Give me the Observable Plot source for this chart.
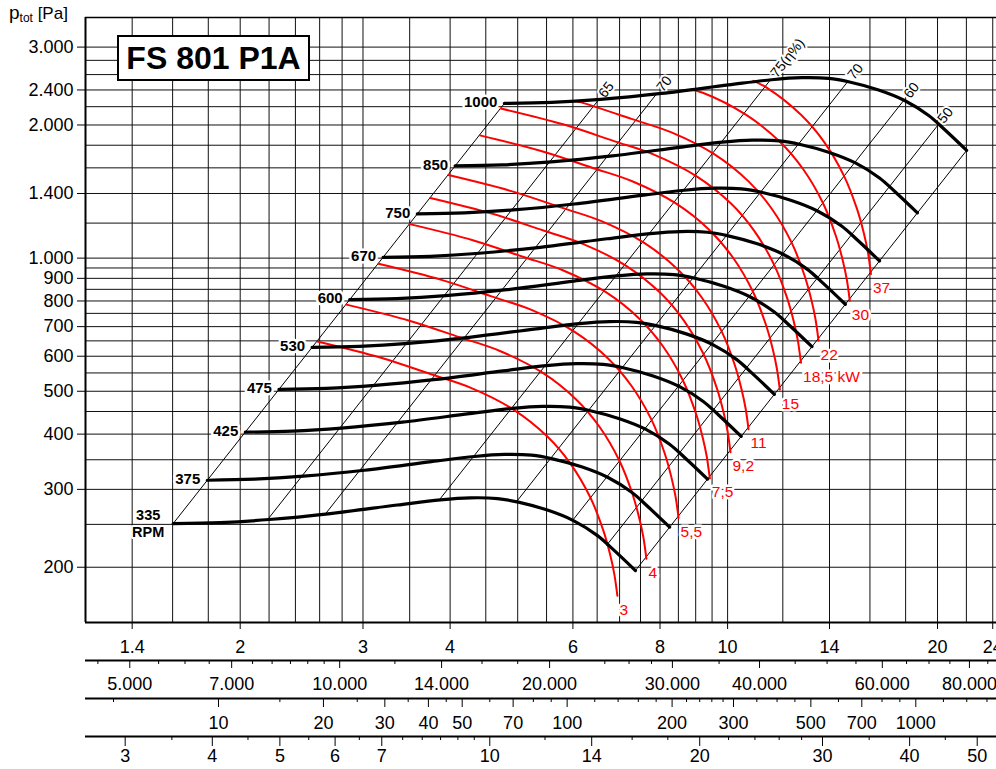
<!DOCTYPE html>
<html><head><meta charset="utf-8">
<script src="https://cdn.jsdelivr.net/npm/d3@7"></script>
<script src="https://cdn.jsdelivr.net/npm/@observablehq/plot@0.6"></script>
<style>
html,body{margin:0;padding:0;background:#fff;overflow:hidden;font-family:Arial,"Liberation Sans",sans-serif;}
#wrap{position:relative;width:996px;height:769px;overflow:hidden;}
#title{position:absolute;left:117px;top:35px;width:193px;height:46px;box-sizing:border-box;border:2px solid #000;background:#fff;font-weight:bold;font-size:32px;display:flex;align-items:center;justify-content:center;color:#000;}
#ylab{position:absolute;left:9px;top:3px;font-size:17px;color:#000;line-height:20px;white-space:nowrap;}
#ylab .p{font-size:19px;}
#ylab sub{font-size:12px;vertical-align:-3px;}
</style></head>
<body><div id="wrap"><div id="chart"></div>
<div id="ylab"><span class="p">p</span><sub>tot</sub> [Pa]</div>
<div id="title">FS 801 P1A</div></div>
<script>
// ---- axes / grid values ----
const gridFlow = [1.4,1.6,1.8,2,2.2,2.4,2.6,2.8,3,3.5,4,4.5,5,5.5,6,6.5,7,7.5,8,8.5,9,9.5,10,12,14,16,18,20,22,24];
const gridPressure = [200,250,300,350,400,450,500,550,600,650,700,750,800,850,900,950,1000,1200,1400,1600,1800,2000,2200,2400,2600,2800,3000];
const pressureTicks = [200,300,400,500,600,700,800,900,1000,1400,2000,2400,3000];
const flowTicks = [1.4,2,3,4,6,8,10,14,20,24];
const flowHourMajor = [5000,7000,10000,14000,20000,30000,40000,60000,80000];
const flowHourMinor = [4500,5500,6000,6500,7500,8000,8500,9000,9500,12000,16000,18000,24000,26000,28000,35000,45000,50000,55000,65000,70000,75000,85000];
const dynPressMajor = [10,20,30,40,50,70,100,200,300,500,700,1000];
const dynPressMinor = [5,15,25,35,45,60,80,90,120,140,160,180,220,240,260,280,350,400,450,600,800,900,1200,1400,1600];
const velocityMajor = [3,4,5,6,7,10,14,20,30,40,50];
const velocityMinor = [3.5,4.5,5.5,6.5,7.5,8,8.5,9,9.5,12,16,18,22,24,26,28,35,45];
const outletArea = 0.456;   // m²
const airDensity = 1.2;     // kg/m³

// ---- fan curves [V m³/s, p Pa] ----
const rpmList = [335,375,425,475,530,600,670,750,850,1000];
const fan335 = [[1.603,251.1],[1.873,252.4],[2.202,256.4],[2.693,264.5],[3.360,276.5],[3.873,284.1],[4.276,287.1],[4.676,286.0],[5.011,280.7],[5.515,269.3],[6.010,255.0],[6.508,235.8],[6.857,219.2],[7.376,196.6]];
const fan375 = [[1.794,314.6],[2.097,316.3],[2.465,321.3],[3.015,331.4],[3.761,346.5],[4.335,356.0],[4.787,359.8],[5.234,358.4],[5.609,351.7],[6.173,337.4],[6.728,319.5],[7.285,295.5],[7.676,274.7],[8.257,246.4]];
const fan425 = [[2.034,404.1],[2.376,406.2],[2.794,412.7],[3.417,425.7],[4.263,445.0],[4.914,457.3],[5.425,462.1],[5.932,460.3],[6.357,451.8],[6.997,433.4],[7.625,410.4],[8.256,379.5],[8.699,352.8],[9.358,316.4]];
const fan475 = [[2.273,504.8],[2.656,507.4],[3.122,515.5],[3.818,531.8],[4.764,555.9],[5.492,571.2],[6.063,577.2],[6.630,575.0],[7.105,564.3],[7.820,541.4],[8.522,512.7],[9.228,474.1],[9.723,440.7],[10.459,395.3]];
const fan530 = [[2.536,628.5],[2.963,631.8],[3.484,641.8],[4.261,662.1],[5.316,692.1],[6.127,711.1],[6.765,718.6],[7.398,715.9],[7.928,702.6],[8.725,674.1],[9.508,638.3],[10.296,590.2],[10.848,548.7],[11.670,492.1]];
const fan600 = [[2.871,805.5],[3.355,809.7],[3.944,822.5],[4.823,848.5],[6.018,887.0],[6.937,911.3],[7.659,921.0],[8.375,917.4],[8.975,900.4],[9.878,863.9],[10.764,818.0],[11.656,756.4],[12.281,703.2],[13.211,630.7]];
const fan670 = [[3.206,1004.4],[3.746,1009.6],[4.404,1025.6],[5.386,1058.0],[6.720,1106.0],[7.746,1136.4],[8.552,1148.4],[9.352,1144.0],[10.022,1122.8],[11.030,1077.2],[12.020,1020.0],[13.016,943.2],[13.714,876.8],[14.752,786.4]];
const fan750 = [[3.589,1258.6],[4.193,1265.1],[4.930,1285.1],[6.029,1325.7],[7.522,1385.9],[8.671,1424.0],[9.573,1439.0],[10.469,1433.5],[11.219,1406.9],[12.347,1349.8],[13.455,1278.1],[14.570,1181.9],[15.351,1098.7],[16.513,985.4]];
const fan850 = [[4.067,1616.6],[4.752,1624.9],[5.587,1650.7],[6.833,1702.8],[8.525,1780.1],[9.827,1829.0],[10.850,1848.3],[11.864,1841.2],[12.714,1807.1],[13.993,1733.7],[15.249,1641.7],[16.513,1518.1],[17.398,1411.2],[18.715,1265.7]];
const fan1000 = [[4.785,2237.5],[5.591,2249.1],[6.573,2284.7],[8.039,2356.9],[10.030,2463.8],[11.561,2531.5],[12.764,2558.3],[13.958,2548.4],[14.958,2501.2],[16.463,2399.6],[17.940,2272.2],[19.427,2101.1],[20.469,1953.2],[22.018,1751.8]];

// ---- shaft power curves [V, p] ----
const powerLabels = ["3","4","5,5","7,5","9,2","11","15","18,5 kW","22","30","37"];
const pw3 = [[2.580,648.0],[3.176,596.0],[3.747,546.9],[4.276,509.7],[4.930,454.6],[5.515,395.0],[5.951,343.1],[6.356,287.5],[6.635,242.0],[6.790,212.6],[6.881,192.5],[6.949,172.5]];
const pw4 = [[2.840,785.0],[3.496,722.0],[4.124,662.5],[4.706,617.5],[5.426,550.7],[6.070,478.5],[6.550,415.6],[6.996,348.3],[7.303,293.2],[7.473,257.5],[7.574,233.2],[7.648,209.0]];
const pw55 = [[3.158,970.7],[3.887,892.8],[4.586,819.2],[5.233,763.5],[6.034,681.0],[6.750,591.7],[7.283,513.9],[7.779,430.7],[8.121,362.5],[8.310,318.5],[8.422,288.4],[8.505,258.4]];
const pw75 = [[3.502,1193.6],[4.311,1097.8],[5.085,1007.4],[5.803,938.9],[6.691,837.4],[7.485,727.6],[8.077,632.0],[8.626,529.6],[9.005,445.8],[9.215,391.6],[9.339,354.6],[9.431,317.7]];
const pw92 = [[3.748,1367.8],[4.614,1258.0],[5.444,1154.4],[6.212,1075.9],[7.163,959.6],[8.013,833.8],[8.646,724.2],[9.234,606.9],[9.640,510.8],[9.865,448.8],[9.997,406.3],[10.096,364.1]];
const pw11 = [[3.978,1540.8],[4.897,1417.2],[5.778,1300.4],[6.594,1212.0],[7.602,1080.9],[8.504,939.2],[9.177,815.8],[9.801,683.6],[10.231,575.4],[10.470,505.5],[10.611,457.7],[10.716,410.2]];
const pw15 = [[4.412,1894.8],[5.431,1742.7],[6.407,1599.2],[7.312,1490.4],[8.430,1329.3],[9.431,1155.0],[10.176,1003.2],[10.869,840.7],[11.346,707.6],[11.611,621.6],[11.766,562.9],[11.883,504.4]];
const pw185 = [[4.731,2179.1],[5.824,2004.3],[6.871,1839.1],[7.841,1714.0],[9.041,1528.7],[10.113,1328.3],[10.913,1153.8],[11.656,966.8],[12.167,813.8],[12.452,714.9],[12.619,647.4],[12.743,580.1]];
const pw22 = [[6.055,2267],[6.170,2249.6],[7.280,2064.3],[8.308,1923.9],[9.578,1715.9],[10.715,1491.0],[11.562,1295.0],[12.349,1085.2],[12.891,913.4],[13.192,802.5],[13.369,726.6],[13.501,651.1]];
const pw30 = [[8.86,2405],[9.212,2365.8],[10.621,2110.1],[11.882,1833.4],[12.821,1592.5],[13.694,1334.5],[14.295,1123.3],[14.629,986.8],[14.825,893.5],[14.971,800.7]];
const pw37 = [[10.89,2516],[11.390,2426.7],[12.742,2108.6],[13.750,1831.5],[14.685,1534.7],[15.330,1291.8],[15.688,1134.9],[15.898,1027.6],[16.055,920.8]];

// ---- efficiency lines (η %) and boundaries ----
const effLabels = ["", "65", "70", "75(η%)", "70", "60", "50", ""];
const effLowV  = [1.603, 2.187, 2.649, 3.861, 4.978, 5.991, 6.701, 7.376];
const effLowP  = [251.1, 255.7, 263.8, 284.2, 281.0, 255.0, 223.8, 196.6];
const effHighV = [4.785, 6.528, 7.907, 11.525, 14.860, 17.884, 20.003, 22.018];
const effHighP = [2237.5, 2278.5, 2350.6, 2532.5, 2504.0, 2272.2, 1994.2, 1751.8];

// ---- build tables ----
const fanPts = [fan335,fan375,fan425,fan475,fan530,fan600,fan670,fan750,fan850,fan1000];
const fanRows = rpmList.flatMap((n,i) => fanPts[i].map(([V,p]) => ({n, V, p})));
const rpmStart = rpmList.map((n,i) => ({n, V: fanPts[i][0][0], p: fanPts[i][0][1]}));
const powerPts = [pw3,pw4,pw55,pw75,pw92,pw11,pw15,pw185,pw22,pw30,pw37];
const powerRows = powerLabels.flatMap((k,i) => powerPts[i].map(([V,p]) => ({k, V, p})));
const powerEnd = powerLabels.map((k,i) => { const e = powerPts[i][powerPts[i].length-1]; return {k, V: e[0], p: e[1]}; });
const effRows = effLabels.map((label,i) => ({label, V1: effLowV[i], p1: effLowP[i], V2: effHighV[i], p2: effHighP[i]}));

const dotFmt = v => d3.format(",")(v).replace(/,/g, ".");
const fromHour = v => v / 3600;
const fromDyn = pd => outletArea * Math.sqrt(2 * pd / airDensity);
const fromVel = c => c * outletArea;
const hourLabel = new Map(flowHourMajor.map(v => [fromHour(v), dotFmt(v)]));
const dynLabel = new Map(dynPressMajor.map(v => [fromDyn(v), String(v)]));
const velLabel = new Map(velocityMajor.map(v => [fromVel(v), String(v)]));

const chart = Plot.plot({
  width: 996, height: 769,
  marginLeft: 85, marginRight: 0, marginTop: 17, marginBottom: 147,
  style: {fontFamily: "Arial, 'Liberation Sans', sans-serif", fontSize: "18px", background: "white", color: "black"},
  x: {type: "log", domain: [1.2, 24.3]},
  y: {type: "log", domain: [150, 3500]},
  marks: [
    Plot.ruleX(gridFlow, {stroke: "#111", strokeWidth: 1}),
    Plot.ruleY(gridPressure, {stroke: "#111", strokeWidth: 1}),
    Plot.ruleX([1.2], {stroke: "#000", strokeWidth: 2}),
    Plot.ruleY([3500], {stroke: "#000", strokeWidth: 1.5}),
    Plot.ruleY([150], {stroke: "#000", strokeWidth: 2}),
    Plot.ruleY([150], {stroke: "#000", strokeWidth: 2, dy: 38}),
    Plot.ruleY([150], {stroke: "#000", strokeWidth: 2, dy: 76}),
    Plot.ruleY([150], {stroke: "#000", strokeWidth: 2, dy: 114}),
    Plot.axisY(pressureTicks, {anchor: "left", tickSize: 8, tickPadding: 4, tickFormat: dotFmt, label: null, fontSize: 18}),
    Plot.axisX(flowTicks, {anchor: "bottom", tickSize: 7, tickPadding: 11, tickFormat: d => String(d), label: null, fontSize: 18}),
    Plot.axisX(flowHourMinor.map(fromHour), {anchor: "bottom", dy: 38, tickSize: 4, tickFormat: () => "", label: null}),
    Plot.axisX(flowHourMajor.map(fromHour), {anchor: "bottom", dy: 38, tickSize: 8, tickPadding: 9, tickFormat: d => hourLabel.get(d), label: null, fontSize: 18}),
    Plot.axisX(dynPressMinor.map(fromDyn), {anchor: "bottom", dy: 76, tickSize: 4, tickFormat: () => "", label: null}),
    Plot.axisX(dynPressMajor.map(fromDyn), {anchor: "bottom", dy: 76, tickSize: 9, tickPadding: 9, tickFormat: d => dynLabel.get(d), label: null, fontSize: 18}),
    Plot.axisX(velocityMinor.map(fromVel), {anchor: "bottom", dy: 114, tickSize: 4, tickFormat: () => "", label: null}),
    Plot.axisX(velocityMajor.map(fromVel), {anchor: "bottom", dy: 114, tickSize: 10, tickPadding: 3, tickFormat: d => velLabel.get(d), label: null, fontSize: 18}),
    // labels with white background
    Plot.text(rpmStart.filter(d => d.n !== 335), {x: "V", y: "p", text: d => String(d.n), textAnchor: "end", dx: -7, dy: -1, fontSize: 15, fontWeight: "bold", fill: "#000", stroke: "white", strokeWidth: 5}),
    Plot.text(rpmStart.filter(d => d.n === 335), {x: "V", y: "p", text: d => String(d.n), textAnchor: "middle", dx: -25, dy: -8, fontSize: 14.5, fontWeight: "bold", fill: "#000", stroke: "white", strokeWidth: 4}),
    Plot.text(rpmStart.filter(d => d.n === 335), {x: "V", y: "p", text: () => "RPM", textAnchor: "middle", dx: -25, dy: 9, fontSize: 14.5, fontWeight: "bold", fill: "#000", stroke: "white", strokeWidth: 4}),
    Plot.text(powerEnd, {x: "V", y: "p", text: "k", textAnchor: "start", dx: 2, dy: 14, fontSize: 15.5, fill: "#ff0000", stroke: "white", strokeWidth: 5}),
    Plot.text(effRows.filter(d => d.label), {x: "V2", y: "p2", text: "label", rotate: -51.7, textAnchor: "start", dx: 3, dy: -4, fontSize: 14, fill: "#000", stroke: "white", strokeWidth: 4}),
    // efficiency lines & boundaries
    Plot.link(effRows, {x1: "V1", y1: "p1", x2: "V2", y2: "p2", stroke: "#000", strokeWidth: 1}),
    // power curves
    Plot.line(powerRows, {x: "V", y: "p", z: "k", stroke: "#ff0000", strokeWidth: 2, curve: "catmull-rom"}),
    // fan curves
    Plot.line(fanRows, {x: "V", y: "p", z: "n", stroke: "#000", strokeWidth: 3.2, curve: "catmull-rom"})
  ]
});
document.getElementById("chart").appendChild(chart);
</script>
</body></html>
